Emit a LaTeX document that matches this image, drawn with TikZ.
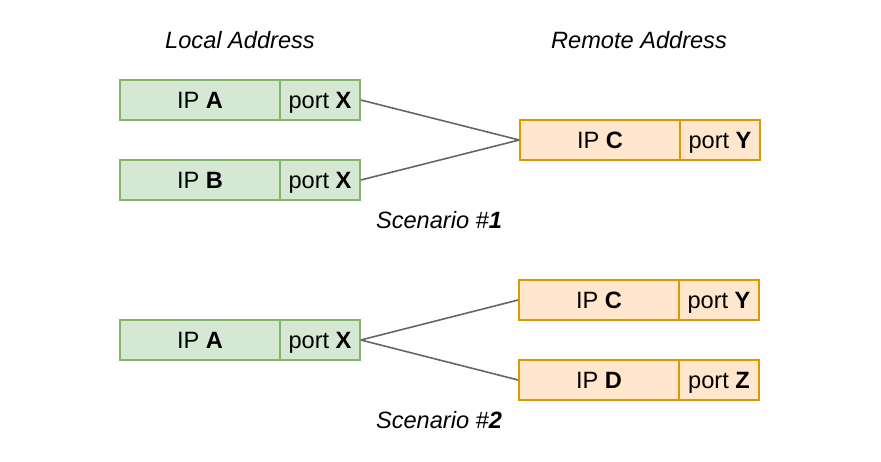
\documentclass[tikz,border=0pt]{standalone}
\usepackage{fontspec}
\setmainfont{Liberation Sans}
\definecolor{gfill}{HTML}{D5E8D4}
\definecolor{gline}{HTML}{82B366}
\definecolor{ofill}{HTML}{FFE6CC}
\definecolor{oline}{HTML}{D79B00}
\definecolor{conn}{HTML}{666666}
\begin{document}
\begin{tikzpicture}[x=1pt,y=-1pt,
  every node/.style={font=\fontsize{23.6}{28}\selectfont, inner sep=0pt},
  box/.style={line width=1.6pt, minimum height=40pt, text height=20pt, text depth=4pt},
  gbox/.style={box, draw=gline, fill=gfill},
  obox/.style={box, draw=oline, fill=ofill},
  ipw/.style={minimum width=160pt},
  ptw/.style={minimum width=80pt},
  link/.style={draw=conn, line width=1.6pt},
  lbl/.style={font=\fontsize{23.6}{28}\selectfont\itshape}]
\useasboundingbox (0,0) rectangle (881,461);
% headers
\node[lbl] (hl) at (240,40) {Local Address};
\node[lbl] (hr) at (639,40) {Remote Address};
% scenario 1
\node[gbox,ipw] (ipa1) at (200,100) {IP \textbf{A}};
\node[gbox,ptw] (pxa1) at (320,100) {port \textbf{X}};
\node[gbox,ipw] (ipb1) at (200,180) {IP \textbf{B}};
\node[gbox,ptw] (pxb1) at (320,180) {port \textbf{X}};
\node[obox,ipw] (ipc1) at (600,140) {IP \textbf{C}};
\node[obox,ptw] (pyc1) at (720,140) {port \textbf{Y}};
\draw[link] (pxa1.east) -- (ipc1.west);
\draw[link] (pxb1.east) -- (ipc1.west);
\node[lbl] (s1) at (439,220) {Scenario \#\textbf{1}};
% scenario 2
\node[gbox,ipw] (ipa2) at (200,340) {IP \textbf{A}};
\node[gbox,ptw] (pxa2) at (320,340) {port \textbf{X}};
\node[obox,ipw] (ipc2) at (599,300) {IP \textbf{C}};
\node[obox,ptw] (pyc2) at (719,300) {port \textbf{Y}};
\node[obox,ipw] (ipd2) at (599,380) {IP \textbf{D}};
\node[obox,ptw] (pzd2) at (719,380) {port \textbf{Z}};
\draw[link] (pxa2.east) -- (ipc2.west);
\draw[link] (pxa2.east) -- (ipd2.west);
\node[lbl] (s2) at (439,420) {Scenario \#\textbf{2}};
\end{tikzpicture}
\end{document}
